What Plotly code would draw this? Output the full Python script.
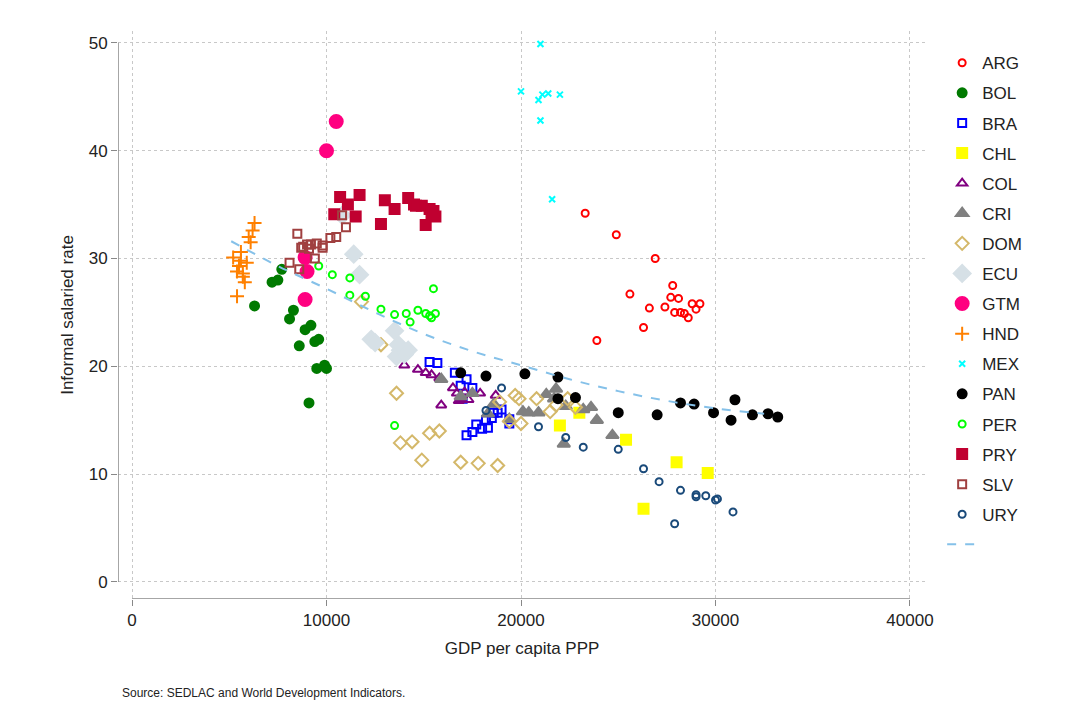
import plotly.graph_objects as go

# country series: (gdp per capita ppp, informal salaried rate)
arg_x = [23300, 24900, 26900, 25600, 27800, 27700, 28100, 26600, 27400, 28800, 29200, 29000, 27900, 28200, 28400, 28600, 26300, 23900]
arg_y = [34.2, 32.2, 30.0, 26.7, 27.5, 26.4, 26.3, 25.4, 25.5, 25.8, 25.8, 25.3, 25.0, 25.0, 24.9, 24.5, 23.6, 22.4]
bol_x = [6300, 7200, 7500, 7700, 8100, 8300, 8600, 8900, 9200, 9400, 9600, 9500, 9900, 10000, 9100]
bol_y = [25.6, 27.8, 28.0, 29.0, 24.4, 25.2, 21.9, 23.4, 23.8, 22.3, 22.5, 19.8, 20.1, 19.8, 16.6]
bra_x = [15300, 15700, 16600, 16900, 17200, 17500, 18200, 18600, 17200, 17500, 17700, 18000, 18300, 18800, 19000, 18500, 19400, 19400, 17000]
bra_y = [20.4, 20.3, 19.4, 18.2, 18.8, 18.0, 15.0, 15.7, 13.6, 13.9, 14.6, 14.2, 14.3, 15.7, 16.0, 15.2, 14.7, 15.1, 17.0]
chl_x = [22000, 23000, 25400, 26300, 28000, 29600]
chl_y = [14.5, 15.7, 13.2, 6.8, 11.1, 10.1]
col_x = [13600, 14000, 14700, 15100, 15400, 15800, 16500, 16700, 16900, 17100, 17300, 15900, 17900, 18700, 16800]
col_y = [21.3, 20.1, 19.7, 19.4, 19.2, 18.9, 18.0, 17.5, 17.0, 17.6, 16.9, 16.4, 17.5, 17.3, 16.8]
cri_x = [15900, 16900, 17500, 18600, 18300, 19400, 20100, 20400, 20900, 21300, 21800, 21700, 22300, 23200, 23600, 23900, 24700, 22200]
cri_y = [18.8, 17.2, 17.5, 16.5, 15.6, 15.1, 15.8, 15.7, 15.7, 17.4, 17.9, 17.0, 16.3, 16.0, 16.2, 15.0, 13.6, 12.8]
dom_x = [11800, 12800, 13600, 13800, 14400, 14900, 15300, 15800, 16900, 17800, 18800, 19400, 19900, 20000, 20800, 21500, 21800, 22400, 22800, 18900, 19700]
dom_y = [26.0, 22.0, 17.5, 12.9, 13.0, 11.3, 13.8, 14.0, 11.1, 11.0, 10.8, 14.9, 17.0, 14.7, 17.0, 15.8, 16.4, 17.0, 16.2, 16.7, 17.3]
ecu_x = [11400, 11700, 10800, 12300, 12500, 13500, 13800, 13600, 14000, 14200, 13700]
ecu_y = [30.4, 28.5, 34.0, 22.5, 22.2, 23.3, 21.5, 20.9, 21.1, 21.5, 22.0]
gtm_x = [10500, 10000, 8900, 9000, 8900]
gtm_y = [42.7, 40.0, 30.1, 28.8, 26.2]
hnd_x = [5200, 5400, 5500, 5600, 5700, 5800, 5900, 6000, 6200, 6300, 6100, 5400, 5600, 5700]
hnd_y = [30.1, 28.8, 29.3, 30.6, 28.3, 27.8, 29.6, 32.0, 32.6, 33.3, 31.5, 26.5, 29.8, 28.6]
mex_x = [20000, 20900, 21100, 21400, 22000, 21000, 21000, 21600]
mex_y = [45.5, 44.7, 45.2, 45.3, 45.2, 42.8, 49.9, 35.5]
pan_x = [16900, 18200, 20200, 21900, 21900, 22800, 25000, 27000, 28200, 28900, 29900, 30800, 31000, 31900, 32700, 33200]
pan_y = [19.4, 19.1, 19.3, 19.0, 17.0, 17.1, 15.7, 15.5, 16.6, 16.5, 15.7, 15.0, 16.9, 15.5, 15.6, 15.3]
per_x = [9600, 10300, 11200, 11200, 12000, 12800, 13500, 14100, 14300, 14700, 15100, 15300, 15400, 15600, 15500, 13500]
per_y = [29.3, 28.5, 28.2, 26.6, 26.5, 25.3, 24.8, 24.9, 24.1, 25.2, 24.9, 24.7, 24.5, 24.9, 27.2, 14.5]
pry_x = [10400, 10700, 11100, 11500, 11700, 12800, 13000, 13500, 14200, 14500, 14900, 15100, 15300, 15400, 15600, 15500, 14600]
pry_y = [34.1, 35.7, 35.0, 33.9, 35.9, 33.2, 35.4, 34.6, 35.6, 35.0, 34.9, 33.1, 34.6, 34.2, 33.9, 34.4, 34.9]
slv_x = [8500, 8700, 9000, 9200, 9500, 9800, 10200, 10500, 11000, 10800, 8100, 8600, 9400, 9800, 9100, 8800]
slv_y = [32.3, 31.0, 31.3, 31.3, 31.4, 31.0, 31.9, 32.0, 32.9, 34.0, 29.6, 29.0, 30.0, 31.2, 30.9, 31.1]
ury_x = [19000, 18200, 20900, 22300, 23200, 25000, 26300, 27100, 28200, 29000, 29000, 29500, 30000, 30100, 30900, 27900]
ury_y = [18.0, 15.9, 14.4, 13.4, 12.5, 12.3, 10.5, 9.3, 8.5, 8.1, 7.9, 8.0, 7.6, 7.7, 6.5, 5.4]

# fitted curve
fit_x = [5100, 7500, 10000, 12500, 15000, 17500, 20000, 22500, 25000, 27500, 30000, 32500]
fit_y = [31.6, 29.3, 27.2, 25.0, 23.0, 21.4, 20.1, 18.8, 17.7, 16.8, 16.1, 15.6]

series = [
    ("ARG", arg_x, arg_y, "circle-open", "#ff0000", 7),
    ("BOL", bol_x, bol_y, "circle", "#007a00", 9),
    ("BRA", bra_x, bra_y, "square-open", "#0000ff", 8),
    ("CHL", chl_x, chl_y, "square", "#ffff00", 10),
    ("COL", col_x, col_y, "triangle-up-open", "#800080", 9),
    ("CRI", cri_x, cri_y, "triangle-up", "#808080", 11),
    ("DOM", dom_x, dom_y, "diamond-open", "#d4b86a", 10),
    ("ECU", ecu_x, ecu_y, "diamond", "#d6e0e6", 13),
    ("GTM", gtm_x, gtm_y, "circle", "#ff0080", 13),
    ("HND", hnd_x, hnd_y, "cross-thin-open", "#ff8000", 10),
    ("MEX", mex_x, mex_y, "x-thin-open", "#00ffff", 6),
    ("PAN", pan_x, pan_y, "circle", "#000000", 9),
    ("PER", per_x, per_y, "circle-open", "#00ff00", 7),
    ("PRY", pry_x, pry_y, "square", "#c00030", 10),
    ("SLV", slv_x, slv_y, "square-open", "#a04040", 8),
    ("URY", ury_x, ury_y, "circle-open", "#1a4a7a", 7),
]

fig = go.Figure()
for name, xs, ys, sym, col, sz in series:
    fig.add_trace(go.Scatter(
        x=xs, y=ys, mode="markers", name=name, legendgroup=name,
        marker=dict(symbol=sym, color=col, size=sz, line=dict(color=col, width=2))))

fig.add_trace(go.Scatter(
    x=fit_x, y=fit_y, mode="lines", name=" ", legendgroup="fit",
    line=dict(color="#85c1e9", width=2, dash="dash", shape="spline")))

grid = dict(showgrid=True, gridcolor="#c8c8c8", griddash="dot", gridwidth=1,
            zeroline=False, showline=False, ticks="outside", ticklen=6,
            tickcolor="#888", tickformat="d", tickfont=dict(size=17, color="#222"))

fig.update_layout(
    width=1092, height=728,
    margin=dict(l=110, r=174, t=23, b=137),
    plot_bgcolor="white", paper_bgcolor="white",
    font=dict(family="Liberation Sans, Arial", color="#222"),
    xaxis=dict(range=[-720, 40823], tickvals=[0, 10000, 20000, 30000, 40000],
               title=dict(text="GDP per capita PPP", font=dict(size=17), standoff=12), **grid),
    yaxis=dict(range=[-1.58, 51.1], tickvals=[0, 10, 20, 30, 40, 50],
               title=dict(text="Informal salaried rate", font=dict(size=17), standoff=10), **grid),
    legend=dict(x=1.02, y=0.975, xanchor="left", yanchor="top", font=dict(size=17),
                tracegroupgap=5, bgcolor="rgba(0,0,0,0)"),
    shapes=[
        dict(type="line", xref="x", yref="y", x0=-720, x1=-720, y0=0, y1=50,
             line=dict(color="#888", width=1.5)),
        dict(type="line", xref="x", yref="y", x0=0, x1=40000, y0=-1.58, y1=-1.58,
             line=dict(color="#888", width=1.5)),
    ],
    annotations=[dict(text="Source: SEDLAC and World Development Indicators.",
                      xref="paper", yref="paper", x=0.003, y=-0.15, xanchor="left",
                      yanchor="top", showarrow=False, font=dict(size=12, color="#222"))],
)

fig.write_html("out.html")
